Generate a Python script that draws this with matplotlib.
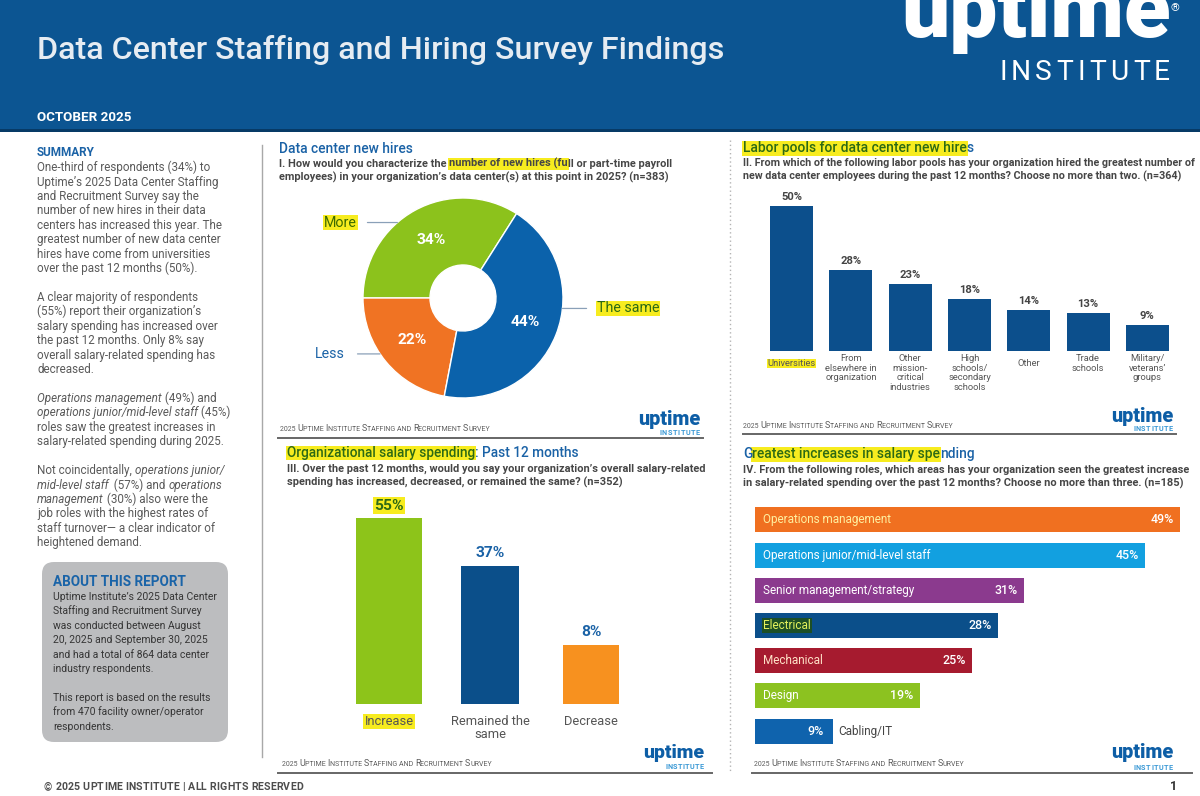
import matplotlib
matplotlib.use("Agg")
import matplotlib.pyplot as plt
from matplotlib.patches import Rectangle, FancyBboxPatch
from matplotlib.font_manager import FontProperties, fontManager
import numpy as np

# ---------------- data ----------------
hires_labels = ["More", "Less", "The same"]
hires_values = [34, 22, 44]
hires_colors = ["#8cc21c", "#f07323", "#0b62ab"]

pool_labels = ["Universities", "From\nelsewhere in\norganization",
               "Other\nmission-\ncritical\nindustries",
               "High\nschools/\nsecondary\nschools", "Other",
               "Trade\nschools", "Military/\nveterans’\ngroups"]
pool_values = [50, 28, 23, 18, 14, 13, 9]

salary_labels = ["Increase", "Remained the\nsame", "Decrease"]
salary_values = [55, 37, 8]
salary_colors = ["#8dc41a", "#0b4f8a", "#f7911f"]

role_labels = ["Operations management", "Operations junior/mid-level staff",
               "Senior management/strategy", "Electrical", "Mechanical",
               "Design", "Cabling/IT"]
role_values = [49, 45, 31, 28, 25, 19, 9]
role_colors = ["#f07020", "#12a0e0", "#8b3a8e", "#0b4f8a", "#a61b2f",
               "#8cc220", "#0f63ad"]

# ---------------- styling ----------------
W, H = 1200, 796
names = {f.name for f in fontManager.ttflist}
FAM = "Roboto" if "Roboto" in names else "DejaVu Sans"
HBLUE = "#0c5592"
BLUE = "#1a62a6"
YEL = "#f7ec1f"
GRN_T = "#2d6a14"
QC = "#464646"
BODY = "#5a5a5a"

fig = plt.figure(figsize=(W / 100, H / 100), dpi=100)
fig.patch.set_facecolor("white")
page = fig.add_axes([0, 0, 1, 1], zorder=0)
page.set_xlim(0, W)
page.set_ylim(H, 0)
page.axis("off")
R = fig.canvas.get_renderer()


def fp(size, weight="normal", style="normal"):
    return FontProperties(family=FAM, size=size, weight=weight, style=style)


def adv(s, size, weight="normal", style="normal"):
    p = fp(size, weight, style)
    a = R.get_text_width_height_descent("|" + s + "|", p, ismath=False)[0]
    b = R.get_text_width_height_descent("||", p, ismath=False)[0]
    return a - b


def fit(s, width, weight="normal", style="normal"):
    return 10.0 * width / adv(s, 10.0, weight, style)


def pxs(size):
    return size * 100 / 72.0


def run(x, yc, parts, size, color=BODY, weight="normal", style="normal",
        ha="left", top=0.82, bot=0.26):
    yb = yc + 0.36 * pxs(size)
    def props(p):
        return (p.get("size", size), p.get("weight", weight), p.get("style", style))
    total = sum(adv(s, *props(p)) for s, p in parts)
    cx = x - (total if ha == "right" else total / 2 if ha == "center" else 0)
    for s, p in parts:
        sz, w_, st = props(p)
        a = adv(s, sz, w_, st)
        if p.get("bg"):
            h = pxs(size)
            page.add_patch(Rectangle((cx - 1, yb - top * h), a + 2, (top + bot) * h,
                                     fc=p["bg"], ec="none", zorder=1))
        page.text(cx, yb, s, fontproperties=fp(sz, w_, st),
                  color=p.get("color", color), va="baseline", ha="left", zorder=2)
        cx += a
    return cx


def spaced(x0, x1, yc, s, size, color, weight="normal"):
    yb = yc + 0.36 * pxs(size)
    advs = [adv(c, size, weight) for c in s]
    extra = (x1 - x0 - sum(advs)) / (len(s) - 1)
    cx = x0
    for c, a in zip(s, advs):
        page.text(cx, yb, c, fontproperties=fp(size, weight), color=color,
                  va="baseline", ha="left", zorder=2)
        cx += a + extra


def px_axes(x0, y0, x1, y1, z=1):
    ax = fig.add_axes([x0 / W, 1 - y1 / H, (x1 - x0) / W, (y1 - y0) / H], zorder=z)
    ax.axis("off")
    return ax


def survey_note(x, yc, width):
    words = ["2025", "UPTIME", "INSTITUTE", "STAFFING", "AND", "RECRUITMENT", "SURVEY"]
    caps = [False, True, True, True, False, True, True]
    def parts_for(s):
        parts = []
        for i, (wd, c) in enumerate(zip(words, caps)):
            tail = " " if i < len(words) - 1 else ""
            if c:
                parts.append((wd[0], {"size": s}))
                parts.append((wd[1:] + tail, {"size": s * 0.78}))
            else:
                parts.append((wd + tail, {"size": s * 0.78}))
        return parts
    tot = sum(adv(t, p["size"]) for t, p in parts_for(10))
    s = 10 * width / tot
    run(x, yc, parts_for(s), s, color="#5c5c5c")


def mini_logo(x0, x1, base, ix0, iy):
    s = fit("uptime", x1 - x0, "black")
    page.text(x0, base, "uptime", fontproperties=fp(s, "black"), color="#0d5ea6",
              va="baseline", ha="left", zorder=2)
    spaced(ix0, x1, iy, "INSTITUTE", 5.2, "#3c9ad6", "bold")


# ---------------- header ----------------
page.add_patch(Rectangle((0, 0), W, 130, fc=HBLUE, ec="none", zorder=0))
page.add_patch(Rectangle((0, 129), W, 3, fc="#073a66", ec="none", zorder=0))
title = "Data Center Staffing and Hiring Survey Findings"
run(37, 47, [(title, {})], fit(title, 688, "medium"), color="#e6ecf2", weight="medium")
run(37, 116, [("OCTOBER 2025", {})], fit("OCTOBER 2025", 94, "bold"),
    color="white", weight="bold")
ls = fit("uptime", 269, "black")
page.text(901, 37, "uptime", fontproperties=fp(ls, "black"), color="white",
          va="baseline", ha="left", zorder=2, clip_on=False)
page.text(1175, 8, "®", fontproperties=fp(8), color="white", va="center",
          ha="center", zorder=2)
spaced(999, 1170, 70, "INSTITUTE", 20 / 0.711 * 0.72, "white", "normal")

# ---------------- left column ----------------
run(37, 152, [("SUMMARY", {})], fit("SUMMARY", 58, "bold"), color=BLUE, weight="bold")
it = {"style": "italic"}
n = {}
summary_lines = [
    [("One-third of respondents (34%) to", n)],
    [("Uptime’s 2025 Data Center Staffing", n)],
    [("and Recruitment Survey say the", n)],
    [("number of new hires in their data", n)],
    [("centers has increased this year. The", n)],
    [("greatest number of new data center", n)],
    [("hires have come from universities", n)],
    [("over the past 12 months (50%).", n)],
    None,
    [("A clear majority of respondents", n)],
    [("(55%) report their organization’s", n)],
    [("salary spending has increased over", n)],
    [("the past 12 months. Only 8% say", n)],
    [("overall salary-related spending has", n)],
    [("decreased.", n)],
    None,
    [("Operations management", it), (" (49%) and", n)],
    [("operations junior/mid-level staff", it), (" (45%)", n)],
    [("roles saw the greatest increases in", n)],
    [("salary-related spending during 2025.", n)],
    None,
    [("Not coincidentally, ", n), ("operations junior/", it)],
    [("mid-level staff", it), ("  (57%) and ", n), ("operations", it)],
    [("management", it), (" (30%) also were the", n)],
    [("job roles with the highest rates of", n)],
    [("staff turnover— a clear indicator of", n)],
    [("heightened demand.", n)],
]
bs = fit("greatest number of new data center", 184)
for i, ln in enumerate(summary_lines):
    if ln:
        run(37, 167 + 14.43 * i, ln, bs, color=BODY)

page.add_patch(FancyBboxPatch((42, 562), 186, 180,
                              boxstyle="round,pad=0,rounding_size=12",
                              fc="#bcbdbf", ec="none", zorder=0))
run(53, 581, [("ABOUT THIS REPORT", {})], fit("ABOUT THIS REPORT", 132, "bold"),
    color="#1a64a8", weight="bold")
about_lines = ["Uptime Institute’s 2025 Data Center", "Staffing and Recruitment Survey",
               "was conducted between August", "20, 2025 and September 30, 2025",
               "and had a total of 864 data center", "industry respondents.", None,
               "This report is based on the results", "from 470 facility owner/operator",
               "respondents."]
abs_ = fit(about_lines[0], 164)
for i, ln in enumerate(about_lines):
    if ln:
        run(53, 596 + 14.45 * i, [(ln, {})], abs_, color="#353535")

spaced(44, 303, 786, "© 2025 UPTIME INSTITUTE | ALL RIGHTS RESERVED", 7.6, "#4d4d4d", "bold")
run(1170, 786, [("1", {})], 9, color="#333", weight="bold")

# dividers
page.plot([262, 262], [145, 757], color="#a8a8a8", lw=1, zorder=1)
page.plot([730, 730], [140, 772], color="#b4b4b4", lw=1, ls=(0, (1, 2)), zorder=1)
page.plot([278, 703], [438, 438], color="#666", lw=1.4, zorder=1)
page.plot([743, 1176], [434, 434], color="#666", lw=1.4, zorder=1)
page.plot([278, 712], [773, 773], color="#666", lw=1.4, zorder=1)
page.plot([752, 1192], [773, 773], color="#666", lw=1.4, zorder=1)

# ---------------- panel I: donut ----------------
t1 = "Data center new hires"
run(279, 148, [(t1, {})], fit(t1, 133, "medium"), color=BLUE, weight="medium")
q1a = "I. How would you characterize the number of new hires (full or part-time payroll"
qs = fit(q1a, 395, "bold")
run(279, 163, [("I. How would you characterize the ", {}),
               ("number of new hires (fu", {"bg": YEL}),
               ("ll or part-time payroll", {})], qs, color=QC, weight="bold")
run(279, 177, [("employees) in your organization’s data center(s) at this point in 2025? (n=383)", {})],
    qs, color=QC, weight="bold")

axd = px_axes(353, 188, 573, 408)
ps = fit("34%", 29, "bold")
wedges, texts, autos = axd.pie(hires_values, colors=hires_colors, startangle=57.6,
                               radius=1, autopct="%d%%", pctdistance=0.665,
                               wedgeprops=dict(width=0.67, edgecolor="white", linewidth=1))
axd.set_xlim(-1.1, 1.1)
axd.set_ylim(-1.1, 1.1)
axd.set_aspect("auto")
for a in autos:
    a.set_fontproperties(fp(ps, "bold"))
    a.set_color("white")

ls_ = fit("The same", 63)
lab_cfg = {
    "More": dict(ang=131, tx=-1.06, ha="right", color="#3d6b00", bg=YEL),
    "The same": dict(ang=-6, tx=1.34, ha="left", color=GRN_T, bg=YEL),
    "Less": dict(ang=214, tx=-1.18, ha="right", color=BLUE, bg=None),
}
for lab in hires_labels:
    c = lab_cfg[lab]
    a = np.deg2rad(c["ang"])
    xy = (np.cos(a), np.sin(a))
    bbox = dict(boxstyle="square,pad=0.05", fc=c["bg"], ec="none") if c["bg"] else None
    axd.annotate(lab, xy=xy, xytext=(c["tx"], xy[1]), ha=c["ha"], va="center",
                 fontproperties=fp(ls_), color=c["color"], bbox=bbox,
                 annotation_clip=False,
                 arrowprops=dict(arrowstyle="-", color="#8aa0b8", lw=0.9,
                                 shrinkA=7, shrinkB=0))

survey_note(280, 428, 209)
mini_logo(638, 700, 425, 659, 432)

# ---------------- panel II: labor pools ----------------
t2a, t2b = "Labor pools for data center new hire", "s"
t2s = fit(t2a + t2b, 230, "medium")
run(743, 147, [(t2a, {"color": GRN_T, "bg": YEL}), (t2b, {"color": BLUE})], t2s,
    weight="medium")
q2a = "II. From which of the following labor pools has your organization hired the greatest number of"
q2s = fit(q2a, 453, "bold")
run(743, 162, [(q2a, {})], q2s, color=QC, weight="bold")
run(743, 176, [("new data center employees during the past 12 months? Choose no more than two. (n=364)", {})],
    q2s, color=QC, weight="bold")

ax2 = px_axes(762, 177, 1177, 351)
xs2 = np.arange(len(pool_values))
ax2.bar(xs2, pool_values, width=0.725, color="#0c4f8c")
ax2.set_xlim(-0.5, len(pool_values) - 0.5)
ax2.set_ylim(0, 60)
vs2 = fit("50%", 21, "bold")
cs2 = fit("elsewhere in", 52)
for i, (lab, v) in enumerate(zip(pool_labels, pool_values)):
    ax2.annotate(f"{v}%", (i, v), xytext=(0, 4), textcoords="offset pixels",
                 ha="center", va="bottom", fontproperties=fp(vs2, "bold"), color="#444")
    bbox = dict(boxstyle="square,pad=0.05", fc=YEL, ec="none") if i == 0 else None
    ax2.annotate(lab, (i, 0), xytext=(0, -3 if "\n" in lab else -8),
                 textcoords="offset pixels", ha="center", va="top",
                 fontproperties=fp(cs2), color="#555", linespacing=1.1,
                 bbox=bbox, annotation_clip=False)

survey_note(743, 425, 210)
mini_logo(1111, 1173, 422, 1133, 428)

# ---------------- panel III: salary spending ----------------
t3a, t3b = "Organizational salary spending", ": Past 12 months"
t3s = fit(t3a + t3b, 293, "medium")
run(287, 452, [(t3a, {"color": GRN_T, "bg": YEL}), (t3b, {"color": BLUE})], t3s,
    weight="medium")
q3a = "III. Over the past 12 months, would you say your organization’s overall salary-related"
q3s = fit(q3a, 421, "bold")
run(287, 468, [(q3a, {})], q3s, color=QC, weight="bold")
run(287, 482, [("spending has increased, decreased, or remained the same? (n=352)", {})],
    q3s, color=QC, weight="bold")

base3 = -14
ax3 = px_axes(338.5, 504, 641.5, 704)
xs3 = np.arange(len(salary_values))
ax3.bar(xs3, np.array(salary_values) - base3, bottom=base3, width=[0.65, 0.58, 0.55],
        color=salary_colors)
ax3.set_xlim(-0.5, len(salary_values) - 0.5)
ax3.set_ylim(base3, 60)
vs3 = fit("55%", 29, "bold")
cs3 = fit("Remained the", 79)
for i, (lab, v) in enumerate(zip(salary_labels, salary_values)):
    if i == 0:
        ax3.annotate(f"{v}%", (i, v), xytext=(0, 5), textcoords="offset pixels",
                     ha="center", va="bottom", fontproperties=fp(vs3, "bold"),
                     color=GRN_T, annotation_clip=False,
                     bbox=dict(boxstyle="square,pad=0.08", fc=YEL, ec="none"))
    else:
        ax3.annotate(f"{v}%", (i, v), xytext=(0, 6), textcoords="offset pixels",
                     ha="center", va="bottom", fontproperties=fp(vs3, "bold"),
                     color=BLUE, annotation_clip=False)
    bbox = dict(boxstyle="square,pad=0.08", fc=YEL, ec="none") if i == 0 else None
    ax3.annotate(lab, (i, base3), xytext=(0, -11), textcoords="offset pixels",
                 ha="center", va="top", fontproperties=fp(cs3), color="#555",
                 linespacing=0.95, bbox=bbox, annotation_clip=False)

survey_note(282, 763, 209)
mini_logo(643, 704, 758, 665, 766)

# ---------------- panel IV: roles ----------------
t4a, t4b, t4c = "G", "reatest increases in salary spe", "nding"
t4s = fit(t4a + t4b + t4c, 231, "medium")
run(743, 453, [(t4a, {"color": BLUE}), (t4b, {"color": GRN_T, "bg": YEL}),
               (t4c, {"color": BLUE})], t4s, weight="medium")
q4a = "IV. From the following roles, which areas has your organization seen the greatest increase"
q4s = fit(q4a, 445, "bold")
run(743, 469, [(q4a, {})], q4s, color=QC, weight="bold")
run(743, 483, [("in salary-related spending over the past 12 months? Choose no more than three. (n=185)", {})],
    q4s, color=QC, weight="bold")

ax4 = px_axes(755, 502.4, 1188.5, 748.6)
ys4 = np.arange(len(role_values))
ax4.barh(ys4, role_values, height=0.71, color=role_colors)
ax4.set_xlim(0, 50)
ax4.set_ylim(len(role_values) - 0.5, -0.5)
cs4 = fit("Operations junior/mid-level staff", 169)
vs4 = fit("45%", 23, "medium")
lab_colors4 = {"Operations management": "#fff0a0", "Electrical": "#e4f25c",
               "Mechanical": "#ffe2c8"}
for i, (lab, v) in enumerate(zip(role_labels, role_values)):
    if i < len(role_values) - 1:
        bbox = (dict(boxstyle="square,pad=0.12", fc="#1d4f25", ec="none")
                if lab == "Electrical" else None)
        ax4.annotate(lab, (0, i), xytext=(8, 0), textcoords="offset pixels",
                     ha="left", va="center", fontproperties=fp(cs4),
                     color=lab_colors4.get(lab, "white"), bbox=bbox)
        ax4.annotate(f"{v}%", (v, i), xytext=(-6, 0), textcoords="offset pixels",
                     ha="right", va="center", fontproperties=fp(vs4, "medium"),
                     color="white")
    else:
        ax4.annotate(f"{v}%", (v, i), xytext=(-9, 0), textcoords="offset pixels",
                     ha="right", va="center", fontproperties=fp(vs4, "medium"),
                     color="white")
        ax4.annotate(lab, (v, i), xytext=(5, 0), textcoords="offset pixels",
                     ha="left", va="center", fontproperties=fp(cs4), color="#444")

survey_note(754, 763, 210)
mini_logo(1111, 1173, 758, 1133, 767)

fig.savefig("out.png", dpi=100, facecolor="white")
